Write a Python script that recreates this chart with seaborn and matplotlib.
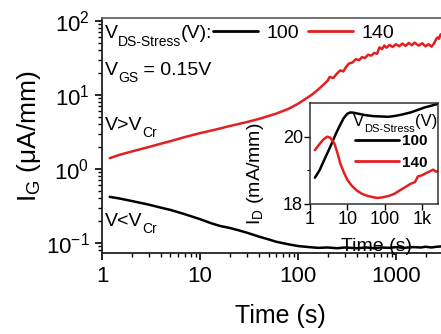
import numpy as np
import pandas as pd
import matplotlib
matplotlib.use("Agg")
import matplotlib.pyplot as plt
import seaborn as sns
from matplotlib.lines import Line2D
from matplotlib.ticker import FixedLocator, NullFormatter

# --- DATA ---
# Main panel: gate current I_G (uA/mm) vs time, 100 V stress
t_100 = [1.2, 1.5, 2, 3, 4, 5, 7, 10, 13, 16, 20, 25, 30, 40, 50, 60, 80, 100,
         130, 160, 200, 250, 300, 400, 500, 600, 700, 850, 1000, 1200, 1500,
         1800, 2000, 2300, 2600, 2900]
ig_100 = [0.42, 0.40, 0.37, 0.33, 0.30, 0.28, 0.245, 0.21, 0.185, 0.17, 0.16,
          0.148, 0.138, 0.122, 0.112, 0.104, 0.096, 0.091, 0.088, 0.086, 0.087,
          0.085, 0.087, 0.085, 0.087, 0.085, 0.087, 0.086, 0.088, 0.086, 0.088,
          0.087, 0.089, 0.087, 0.089, 0.090]

# Main panel: 140 V stress
t_140 = [1.2, 1.5, 2, 3, 4, 5, 7, 10, 15, 20, 30, 40, 50, 60, 80, 100, 120,
         140, 160, 180, 200, 210, 230, 250, 270, 290, 310, 330, 360, 390, 420,
         450, 480, 520, 560, 600, 640, 680, 720, 760, 800, 860, 920, 1000,
         1080, 1160, 1250, 1350, 1450, 1550, 1700, 1850, 2000, 2150, 2300,
         2450, 2550, 2650, 2750, 2850, 2950]
ig_140 = [1.40, 1.55, 1.72, 1.98, 2.2, 2.38, 2.7, 3.05, 3.45, 3.8, 4.3, 4.75,
          5.2, 5.6, 6.5, 7.6, 8.9, 10.2, 11.8, 13.6, 15.5, 17.5, 17.0, 19.5,
          21.5, 20.8, 24.0, 26.5, 27.5, 30.5, 29.5, 32.5, 31.5, 35.0, 34.0,
          37.0, 36.0, 44.0, 41.5, 46.5, 43.5, 47.5, 44.5, 48.5, 45.5, 49.5,
          46.0, 50.5, 47.0, 51.0, 46.5, 50.0, 45.5, 48.5, 45.0, 50.0, 56.0,
          60.0, 57.5, 66.0, 62.0]

# Inset: drain current I_D (mA/mm) vs time
t_in_100 = [1.35, 1.8, 2.5, 3.5, 5, 6.5, 8, 10, 12, 15, 20, 30, 50, 80, 120,
            150, 200, 300, 500, 800, 1200, 1800, 2400, 2700]
id_100 = [18.78, 19.0, 19.35, 19.7, 20.1, 20.36, 20.55, 20.68, 20.72, 20.71,
          20.68, 20.64, 20.61, 20.6, 20.59, 20.6, 20.62, 20.66, 20.72, 20.8,
          20.87, 20.92, 20.96, 20.98]
t_in_140 = [1.35, 1.8, 2.3, 2.9, 3.5, 4.5, 5.5, 6.5, 8, 10, 13, 18, 25, 35, 50,
            64, 90, 130, 180, 270, 380, 500, 650, 780, 1000, 1300, 1700, 2000,
            2400, 2700]
id_140 = [19.6, 19.78, 19.92, 20.0, 19.97, 19.8, 19.5, 19.2, 18.95, 18.72,
          18.55, 18.4, 18.3, 18.24, 18.2, 18.18, 18.2, 18.24, 18.3, 18.42,
          18.52, 18.6, 18.65, 18.82, 18.85, 18.92, 18.98, 19.02, 18.96, 18.98]

stress_levels = ["100", "140"]
colors = {"100": "black", "140": "#e41f1f"}

x_ticks = [1, 10, 100, 1000]
x_ticklabels = ["1", "10", "100", "1000"]
inset_x_ticklabels = ["1", "10", "100", "1k"]
inset_y_ticks = [18, 20]

main_df = pd.concat([
    pd.DataFrame({"t": t_100, "I": ig_100, "V": "100"}),
    pd.DataFrame({"t": t_140, "I": ig_140, "V": "140"}),
])
inset_df = pd.concat([
    pd.DataFrame({"t": t_in_100, "I": id_100, "V": "100"}),
    pd.DataFrame({"t": t_in_140, "I": id_140, "V": "140"}),
])

# --- STYLE ---
sns.set_style("ticks")
plt.rcParams["font.family"] = ["Liberation Sans", "DejaVu Sans"]
plt.rcParams["mathtext.fontset"] = "custom"
plt.rcParams["mathtext.rm"] = "Liberation Sans"
plt.rcParams["mathtext.it"] = "Liberation Sans:italic"
plt.rcParams["mathtext.bf"] = "Liberation Sans:bold"
for k in ["text.color", "axes.labelcolor", "xtick.color", "ytick.color"]:
    plt.rcParams[k] = "black"

W, H = 441, 334
fig = plt.figure(figsize=(W / 100, H / 100), dpi=100)
renderer = fig.canvas.get_renderer()


def fx(px):
    return px / W


def fy(py):
    return 1 - py / H


def chain_text(x_px, base_px, parts):
    # parts: (string, fontsize, baseline shift in px)
    x = x_px
    for s, size, dy in parts:
        t = fig.text(fx(x), fy(base_px + dy), s, fontsize=size,
                     va="baseline", ha="left")
        x += t.get_window_extent(renderer).width


# --- MAIN PANEL ---
ax = fig.add_axes([fx(102), fy(253), (445 - 102) / W, (253 - 18) / H])
sns.lineplot(data=main_df, x="t", y="I", hue="V", palette=colors,
             estimator=None, sort=False, legend=False, lw=1.8, ax=ax)
ax.set_xscale("log")
ax.set_yscale("log")
ax.set_xlim(1, 3162)
ax.set_ylim(10 ** -1.135, 10 ** 2.04)
ax.set_xticks(x_ticks)
ax.set_xticklabels(x_ticklabels)
ax.xaxis.set_minor_formatter(NullFormatter())
ax.tick_params(axis="both", which="major", labelsize=16, length=5, width=1.2,
               direction="out", pad=4)
ax.tick_params(axis="both", which="minor", length=3, width=1.0, direction="out")
for s in ["left", "bottom", "top"]:
    ax.spines[s].set_linewidth(1.3)
    ax.spines[s].set_color("#222222")
ax.spines["top"].set_color("#666666")
ax.spines["top"].set_visible(True)
ax.spines["right"].set_visible(False)
ax.set_xlabel("Time (s)", fontsize=18)
ax.xaxis.set_label_coords((280 - 102) / 343, -0.215)
ax.set_ylabel(r"$\mathregular{I_G}$ ($\mathregular{\mu}$A/mm)", fontsize=19,
              labelpad=2)

chain_text(105, 38, [("V", 14, 0), ("DS-Stress", 10, 8), ("(V):", 14, 0)])
chain_text(105, 75, [("V", 14, 0), ("GS", 10, 7), (" = 0.15V", 14, 0)])
chain_text(105, 130, [("V>V", 14, 0), ("Cr", 10, 7)])
chain_text(105, 226, [("V<V", 14, 0), ("Cr", 10, 7)])

handles = [Line2D([], [], color=colors[v], lw=2) for v in stress_levels]
ax.legend(handles, stress_levels, ncol=2, loc="center left",
          bbox_to_anchor=(fx(213), fy(33)), bbox_transform=fig.transFigure,
          frameon=False, fontsize=14, handlelength=2.3, handletextpad=0.45,
          columnspacing=0.45, borderpad=0, borderaxespad=0)

# --- INSET ---
axi = fig.add_axes([fx(310), fy(204), (438 - 310) / W, (204 - 103) / H])
axi.set_facecolor("white")
sns.lineplot(data=inset_df, x="t", y="I", hue="V", palette=colors,
             estimator=None, sort=False, legend=False, lw=1.8, ax=axi)
axi.set_xscale("log")
axi.set_xlim(1, 2700)
axi.set_ylim(18, 21)
axi.set_xticks(x_ticks)
axi.set_xticklabels(inset_x_ticklabels)
axi.xaxis.set_minor_formatter(NullFormatter())
axi.set_yticks(inset_y_ticks)
axi.yaxis.set_minor_locator(FixedLocator([19]))
axi.tick_params(axis="both", which="major", labelsize=13, length=4,
                width=1.0, pad=1)
axi.tick_params(axis="both", which="minor", length=2.5, width=0.8)
for s in axi.spines.values():
    s.set_visible(True)
    s.set_linewidth(1.1)
    s.set_color("#333333")
axi.set_xlabel("Time (s)", fontsize=14)
axi.set_ylabel(r"$\mathregular{I_D}$ (mA/mm)", fontsize=14)
axi.xaxis.set_label_coords(0.52, -0.34)
axi.yaxis.set_label_coords(-0.34, 0.30)

chain_text(353, 126, [("V", 12, 0), ("DS-Stress", 8, 6), ("(V)", 12, 0)])
in_handles = [Line2D([], [], color=colors[v], lw=2) for v in stress_levels]
axi.legend(in_handles, stress_levels, loc="upper left",
           bbox_to_anchor=(fx(355), fy(134)), bbox_transform=fig.transFigure,
           frameon=False, prop={"size": 11, "weight": "bold"},
           handlelength=2.9, handletextpad=0.2, labelspacing=0.5,
           borderpad=0, borderaxespad=0)

fig.savefig("out.png", dpi=100)
